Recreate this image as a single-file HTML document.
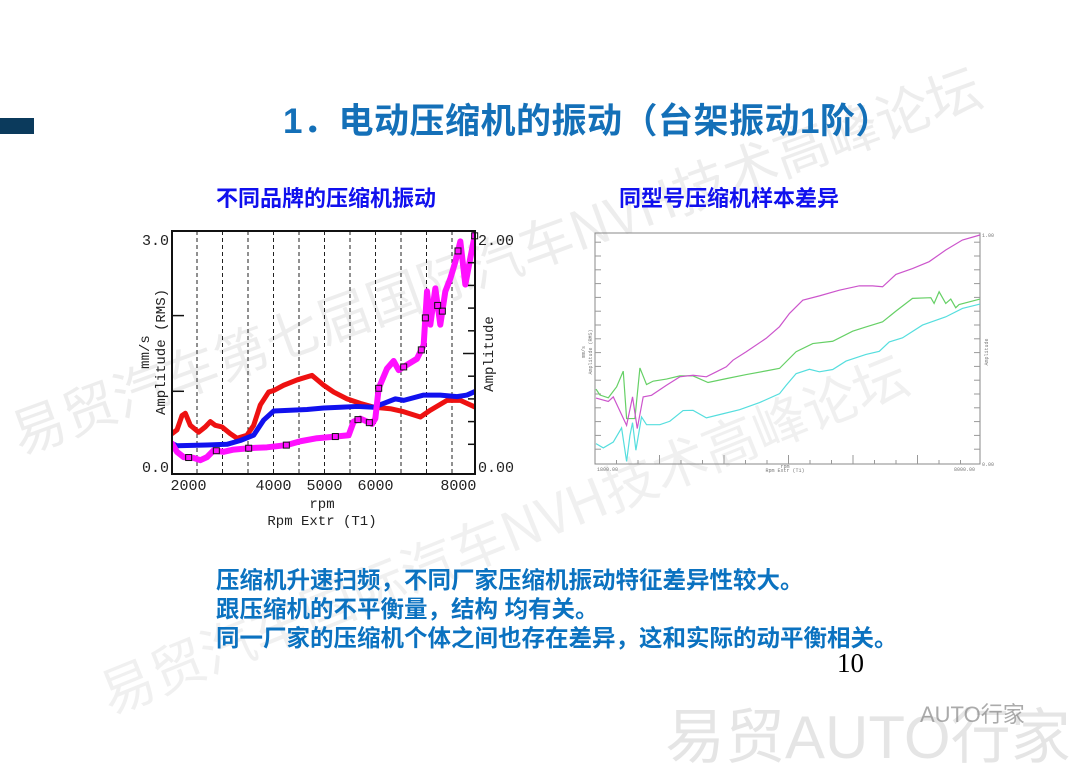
<!DOCTYPE html>
<html><head><meta charset="utf-8">
<style>
html,body{margin:0;padding:0;background:#fff;}
body{width:1080px;height:764px;position:relative;overflow:hidden;font-family:"Liberation Sans","Noto Sans CJK SC",sans-serif;}
.abs{position:absolute;white-space:nowrap;}
.cjk{font-family:"Liberation Sans","Noto Sans CJK SC",sans-serif;font-weight:700;}
</style></head>
<body>
<svg width="1080" height="764" style="position:absolute;left:0;top:0">
  <text x="20" y="455" transform="rotate(-20 20 455)" font-family="Noto Sans CJK SC, sans-serif" font-size="54" fill="#000" fill-opacity="0.07">易贸汽车第七届国际汽车NVH技术高峰论坛</text>
  <text x="110" y="715" transform="rotate(-22 110 715)" font-family="Noto Sans CJK SC, sans-serif" font-size="54" fill="#000" fill-opacity="0.06">易贸汽车国际汽车NVH技术高峰论坛</text>
  <text x="665" y="758" font-family="Liberation Sans, Noto Sans CJK SC, sans-serif" font-size="60" fill="#000" fill-opacity="0.1">易贸AUTO行家</text>
  <text x="920" y="722" font-family="Liberation Sans, Noto Sans CJK SC, sans-serif" font-size="22" fill="#888" fill-opacity="0.7">AUTO行家</text>
</svg>
<div class="abs" style="left:0;top:118px;width:34px;height:16px;background:#0b3a5c"></div>
<div class="abs cjk" style="left:283px;top:93px;font-size:35px;letter-spacing:0.5px;color:#1470b8">1．电动压缩机的振动（台架振动1阶）</div>
<div class="abs cjk" style="left:216px;top:181px;font-size:22px;color:#1010ee">不同品牌的压缩机振动</div>
<div class="abs cjk" style="left:619px;top:181px;font-size:22px;color:#1010ee">同型号压缩机样本差异</div>
<div class="abs cjk" style="left:216px;top:566px;font-size:23.5px;line-height:29px;color:#0b72c0">压缩机升速扫频，不同厂家压缩机振动特征差异性较大。<br>跟压缩机的不平衡量，结构 均有关。<br>同一厂家的压缩机个体之间也存在差异，这和实际的动平衡相关。</div>
<div class="abs" style="left:837px;top:648px;font-size:27px;font-family:'Liberation Serif',serif;color:#000">10</div>

<svg id="left" width="1080" height="764" style="position:absolute;left:0;top:0"></svg>
<svg id="right" width="1080" height="764" style="position:absolute;left:0;top:0"></svg>

<script>
// ---------- Left chart data ----------
const lRedRpm=[1412,1529,1647,1725,1843,2039,2196,2314,2431,2588,2784,2941,3176,3333,3490,3686,3804,4039,4353,4706,4980,5216,5529,5843,6157,6549,6863,7255,7490,7882,8196,8549];
const lRedVal=[0.44,0.49,0.68,0.71,0.55,0.46,0.53,0.60,0.55,0.53,0.44,0.38,0.42,0.55,0.82,0.99,1.01,1.08,1.15,1.21,1.08,0.99,0.90,0.84,0.79,0.77,0.73,0.66,0.75,0.88,0.88,0.79];
const lBlueRpm=[1412,1529,2235,2706,3020,3333,3569,3804,4196,4588,4980,5372,5765,6157,6392,6667,6863,7333,7725,8118,8353,8549];
const lBlueVal=[0.31,0.28,0.29,0.30,0.35,0.42,0.62,0.74,0.75,0.76,0.78,0.79,0.80,0.79,0.84,0.90,0.88,0.95,0.95,0.93,0.95,1.00];
const lMagRpm=[1412,1529,1686,1922,2078,2235,2392,2627,2863,3255,3647,4118,4431,4824,5216,5569,5686,5843,6000,6118,6196,6275,6471,6627,6745,6941,7176,7333,7412,7490,7608,7725,7843,7961,8078,8196,8314,8431,8549];
const lMagVal=[0.31,0.20,0.13,0.12,0.09,0.13,0.22,0.20,0.23,0.25,0.26,0.29,0.34,0.38,0.40,0.42,0.60,0.64,0.60,0.57,0.64,1.04,1.30,1.40,1.28,1.35,1.43,1.61,2.32,1.88,2.36,1.88,2.32,2.49,2.71,2.98,2.41,2.76,3.10];
const lMarkerRpm=[1804,2455,3216,4102,5255,5788,6055,6275,6863,7278,7373,7663,7773,8141,8533];
const lGridRpm=[2000,2600,3200,3800,4400,5000,5600,6200,6800,7400,8000];
const lXTicks=[1800,3800,5000,6200,8150];
const lXLabels=["2000","4000","5000","6000","8000"];
const lYLabels=["0.0","3.0"];
const lY2Labels=["0.00","2.00"];

// ---------- Right chart data ----------
const rMagRpm=[1800,1999,2079,2294,2390,2466,2562,2696,2938,3153,3367,3582,3743,3904,4012,4226,4548,4763,4924,5139,5407,5729,6051,6266,6427,6642,6910,7179,7447,7716,8000];
const rMagVal=[0.285,0.270,0.290,0.165,0.290,0.151,0.290,0.297,0.341,0.378,0.385,0.378,0.400,0.422,0.451,0.488,0.547,0.598,0.656,0.714,0.733,0.758,0.777,0.777,0.773,0.827,0.853,0.883,0.934,0.978,1.000];
const rGreenRpm=[1800,1864,1999,2133,2240,2294,2428,2509,2616,2723,2938,3153,3367,3609,3904,4226,4548,4763,5031,5300,5622,5944,6159,6427,6642,6910,7206,7259,7340,7447,7528,7608,7662,8000];
const rGreenVal=[0.324,0.298,0.286,0.334,0.403,0.195,0.195,0.417,0.344,0.359,0.368,0.382,0.382,0.353,0.370,0.388,0.404,0.415,0.488,0.524,0.534,0.578,0.597,0.619,0.666,0.722,0.725,0.700,0.751,0.700,0.719,0.681,0.695,0.719];
const rCyanRpm=[1800,1918,2079,2213,2294,2348,2390,2444,2535,2616,2831,2992,3206,3367,3582,3851,4119,4441,4763,4871,5031,5246,5407,5622,5837,6159,6374,6535,6749,7071,7447,7716,8000];
const rCyanVal=[0.085,0.066,0.092,0.154,0.007,0.121,0.177,0.056,0.202,0.168,0.168,0.183,0.230,0.231,0.198,0.216,0.234,0.265,0.304,0.341,0.392,0.411,0.400,0.410,0.447,0.476,0.490,0.531,0.549,0.605,0.641,0.678,0.697];

const NS="http://www.w3.org/2000/svg";
function mk(parent,tag,attrs){const e=document.createElementNS(NS,tag);for(const k in attrs)e.setAttribute(k,attrs[k]);parent.appendChild(e);return e;}

// Left chart axes
const L={x0:172,x1:475,y0:231,y1:474};
const lx=r=>197+(r-2000)*0.0425;
const ly=v=>467-v*75.7;
const lsvg=document.getElementById('left');
const defs=mk(lsvg,'defs',{});const cp=mk(defs,'clipPath',{id:'lclip'});mk(cp,'rect',{x:L.x0,y:L.y0,width:L.x1-L.x0,height:L.y1-L.y0});
lGridRpm.forEach(r=>{const g=mk(lsvg,'line',{x1:lx(r),x2:lx(r),y1:L.y0,y2:L.y1,stroke:'#222','stroke-width':1,'stroke-dasharray':'4,3'});

});
function lline(rs,vs,color,w,name){const p=mk(lsvg,'polyline',{points:rs.map((r,i)=>lx(r)+','+ly(vs[i])).join(' '),fill:'none',stroke:color,'stroke-width':w,'stroke-linejoin':'round','stroke-linecap':'round','clip-path':'url(#lclip)'});

}
lline(lRedRpm,lRedVal,'#ee1111',5,'series-red');
lline(lBlueRpm,lBlueVal,'#1111ee',5,'series-blue');
lline(lMagRpm,lMagVal,'#ff10ff',6,'series-magenta');
function interp(rs,vs,r){for(let i=1;i<rs.length;i++){if(r<=rs[i]){const t=(r-rs[i-1])/(rs[i]-rs[i-1]);return vs[i-1]+t*(vs[i]-vs[i-1]);}}return vs[vs.length-1];}
lMarkerRpm.forEach(r=>{const v=Math.min(interp(lMagRpm,lMagVal,r),3.08);const m=mk(lsvg,'rect',{x:lx(r)-3,y:ly(v)-3,width:6,height:6,fill:'none',stroke:'#111','stroke-width':1});

});
mk(lsvg,'rect',{x:L.x0,y:L.y0,width:L.x1-L.x0,height:L.y1-L.y0,fill:'none',stroke:'#111','stroke-width':2});
[1,2].forEach(v=>mk(lsvg,'line',{x1:L.x0,x2:L.x0+12,y1:ly(v),y2:ly(v),stroke:'#111','stroke-width':1.5}));
for(let k=1;k<10;k++){const y=467-k*22.7;mk(lsvg,'line',{x1:L.x1-(k%5==0?12:7),x2:L.x1,y1:y,y2:y,stroke:'#111','stroke-width':1.5});}
const tf='Liberation Mono, monospace';
[0,3].forEach((v,i)=>{const t=mk(lsvg,'text',{x:169,y:ly(v)+5,'text-anchor':'end','font-family':tf,'font-size':15,fill:'#222'});t.textContent=lYLabels[i];

});
[0,3].forEach((v,i)=>{const t=mk(lsvg,'text',{x:478,y:ly(v)+5,'font-family':tf,'font-size':15,fill:'#222'});t.textContent=lY2Labels[i];

});
lXTicks.forEach((r,i)=>{const t=mk(lsvg,'text',{x:lx(r),y:490,'text-anchor':'middle','font-family':tf,'font-size':15,fill:'#222'});t.textContent=lXLabels[i];

});
[['rpm',322,508,'x-axis-title'],['Rpm Extr (T1)',322,525,'x-axis-subtitle']].forEach(a=>{const t=mk(lsvg,'text',{x:a[1],y:a[2],'text-anchor':'middle','font-family':tf,'font-size':14,fill:'#222'});t.textContent=a[0];

});
[['Amplitude (RMS)',165,352,'y-axis-title'],['mm/s',149,352,'y-axis-unit'],['Amplitude',493,354,'y2-axis-title']].forEach(a=>{const t=mk(lsvg,'text',{x:a[1],y:a[2],'text-anchor':'middle','font-family':tf,'font-size':14,fill:'#222',transform:`rotate(-90 ${a[1]} ${a[2]})`});t.textContent=a[0];

});

// Right chart
const R={x0:595,x1:980,y0:233,y1:464};
const rx=r=>596+(r-1800)*(384/6200);
const ry=v=>463-v*228;
const rsvg=document.getElementById('right');
mk(rsvg,'rect',{x:R.x0,y:R.y0,width:R.x1-R.x0,height:R.y1-R.y0,fill:'none',stroke:'#888','stroke-width':1});
for(let k=1;k<17;k++){const y=463-k*13.8;mk(rsvg,'line',{x1:R.x0,x2:R.x0+6,y1:y,y2:y,stroke:'#999','stroke-width':1});mk(rsvg,'line',{x1:R.x1-6,x2:R.x1,y1:y,y2:y,stroke:'#999','stroke-width':1});}
for(let k=1;k<18;k++){const x=R.x0+k*21.5;mk(rsvg,'line',{x1:x,x2:x,y1:R.y1-(k%3==0?9:4),y2:R.y1,stroke:'#999','stroke-width':1});}
function rline(rs,vs,color,name){const p=mk(rsvg,'polyline',{points:rs.map((r,i)=>rx(r)+','+ry(vs[i])).join(' '),fill:'none',stroke:color,'stroke-width':1.2});

}
rline(rCyanRpm,rCyanVal,'#55dede','series-cyan');
rline(rGreenRpm,rGreenVal,'#66d066','series-green');
rline(rMagRpm,rMagVal,'#cc55cc','series-magenta');
[['1800.00',597,471,'start'],['8000.00',975,471,'end'],['1.00',982,237,'start'],['0.00',982,466,'start'],['Rpm Extr (T1)',785,472,'middle'],['rpm',785,468,'middle']].forEach(a=>{const t=mk(rsvg,'text',{x:a[1],y:a[2],'text-anchor':a[3],'font-family':tf,'font-size':5,fill:'#777'});t.textContent=a[0];

});
[['Amplitude (RMS)',592,352],['mm/s',585,352],['Amplitude',988,352]].forEach(a=>{const t=mk(rsvg,'text',{x:a[1],y:a[2],'text-anchor':'middle','font-family':tf,'font-size':5,fill:'#777',transform:`rotate(-90 ${a[1]} ${a[2]})`});t.textContent=a[0];

});
</script>
</body></html>
